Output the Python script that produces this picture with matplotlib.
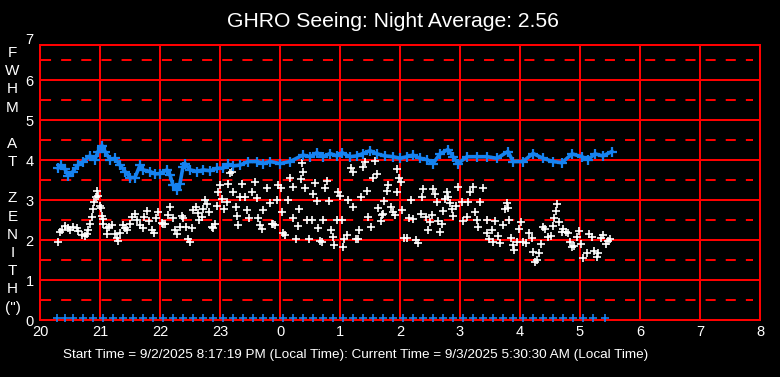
import matplotlib
matplotlib.use("Agg")
import matplotlib.pyplot as plt
import numpy as np

plt.rcParams['font.family'] = ['Liberation Sans', 'DejaVu Sans']

# ---------------- data (time in minutes after 20:00) ----------------
title_text = "GHRO Seeing: Night Average: 2.56"
footer_text = ("Start Time = 9/2/2025 8:17:19 PM (Local Time): "
               "Current Time = 9/3/2025 5:30:30 AM (Local Time)")
ylabel_chars = ["F", "W", "H", "M", "", "A", "T", "", "Z", "E", "N", "I", "T", "H", "(\")"]

x_tick_vals = [20, 21, 22, 23, 24, 25, 26, 27, 28, 29, 30, 31, 32]
x_tick_labels = ["20", "21", "22", "23", "0", "1", "2", "3", "4", "5", "6", "7", "8"]
y_tick_vals = [0, 1, 2, 3, 4, 5, 6, 7]

blue_min = [18, 21, 25, 28, 33, 38, 43, 50, 55, 58, 62, 65, 70, 75, 80, 85, 90, 95, 100, 103,
            110, 115, 120, 127, 130, 133, 137, 140, 143, 145, 150, 157, 163, 170, 177, 183, 188,
            193, 200, 208, 217, 223, 230, 240, 250, 263, 270, 277, 283, 290, 297, 302, 310, 317,
            323, 330, 337, 345, 353, 360, 367, 373, 380, 387, 393, 400, 408, 413, 418, 427, 437,
            447, 457, 468, 473, 483, 493, 503, 513, 522, 532, 542, 548, 555, 563, 572]
blue_val = [3.80, 3.88, 3.78, 3.62, 3.72, 3.88, 3.97, 4.11, 4.02, 4.22, 4.37, 4.22, 4.02, 4.05,
            3.88, 3.72, 3.57, 3.57, 3.88, 3.76, 3.72, 3.66, 3.67, 3.76, 3.63, 3.38, 3.26, 3.42,
            3.84, 3.92, 3.76, 3.72, 3.76, 3.74, 3.80, 3.80, 3.90, 3.86, 3.88, 3.97, 3.97, 3.92,
            3.97, 3.92, 3.97, 4.13, 4.09, 4.19, 4.09, 4.17, 4.11, 4.19, 4.09, 4.11, 4.17, 4.24,
            4.16, 4.11, 4.09, 4.05, 4.09, 4.13, 4.05, 4.02, 3.92, 4.16, 4.27, 4.09, 3.92, 4.09,
            4.09, 4.09, 4.05, 4.22, 3.97, 3.97, 4.17, 4.05, 3.97, 3.94, 4.16, 4.09, 4.02, 4.16,
            4.11, 4.22]

white_min = [18, 20, 22, 25, 28, 30, 33, 37, 38, 42, 45, 47, 48, 50, 52, 53, 54, 56, 57, 58,
             60, 61, 62, 63, 63, 67, 67, 69, 72, 75, 77, 78, 80, 83, 85, 87, 90, 92, 95, 97,
             100, 103, 104, 107, 109, 112, 114, 116, 118, 122, 123,
             125, 128, 130, 133, 135, 137, 140, 142, 143, 146, 148, 150, 152, 153, 156, 158,
             159, 162, 163, 165, 167, 169, 172, 173, 175, 177, 178, 180, 182, 184, 187, 188,
             190, 192, 193, 196, 197, 198, 200, 202, 205, 207, 209, 212, 215, 217, 218, 220,
             222, 223, 227, 230, 233,
             232, 235, 237, 238, 241, 242, 243, 245, 248, 250, 253, 253, 256, 258, 259, 261,
             262, 263, 265, 267, 269, 272, 273, 275, 277, 278, 280, 282, 283, 285, 287, 289,
             291, 293, 294, 297, 298, 300, 302, 303, 304, 307, 308, 311, 313, 313, 316, 318,
             319, 321, 323, 325, 327, 328, 331, 333, 335, 337, 338, 341, 343, 344,
             342, 347, 348, 351, 353, 355, 357, 357, 359, 361, 362, 364, 367, 369, 371, 373,
             376, 378, 381, 382, 383, 386, 388, 390, 392, 393, 395, 397, 398, 400, 402, 403,
             405, 407, 408, 410, 412, 413, 416, 418, 422, 423, 427, 428, 430, 433, 435, 437,
             438, 440, 443, 447, 447, 449, 452,
             453, 455, 458, 460, 463, 465, 467, 468, 469, 471, 473, 474, 477, 479, 481, 483,
             486, 489, 492, 493, 495, 497, 499, 501, 503, 505, 508, 511, 513, 514, 516, 517,
             519, 522, 523, 526, 528, 530, 532, 534, 537, 539, 541, 543, 547, 549, 552, 554,
             557, 558, 561, 563, 566, 568, 570]
white_val = [1.95, 2.20, 2.26, 2.37, 2.32, 2.26, 2.34, 2.30, 2.23, 2.13, 2.12, 2.15, 2.26, 2.40,
             2.59, 2.78, 2.97, 3.09, 3.23, 3.11, 2.87, 2.82, 2.62, 2.53, 2.40, 2.32, 2.15, 2.34,
             2.38, 2.15, 2.07, 1.98, 2.18, 2.38, 2.32, 2.26, 2.40, 2.59, 2.65, 2.51, 2.38, 2.32,
             2.59, 2.73, 2.48, 2.26, 2.18, 2.55, 2.70, 2.43, 2.40,
             2.40, 2.63, 2.84, 2.55, 2.26, 2.15, 2.34, 2.62, 2.57, 2.34, 2.03, 1.97, 2.32, 2.76,
             2.84, 2.68, 2.51, 2.59, 2.78, 3.01, 2.90, 2.70, 2.34, 2.30, 2.40, 2.87, 3.22, 3.38,
             3.03, 2.78, 2.95, 3.40, 3.68, 3.70, 3.20, 2.84, 2.62, 2.38, 3.09, 3.40, 3.09, 2.76,
             2.57, 3.20, 3.47, 3.05, 2.55, 2.38, 2.28, 2.76, 3.30, 2.93, 2.40,
             2.40, 2.38, 3.01, 3.38, 3.32, 2.70, 2.18, 2.13, 3.01, 3.55, 3.34, 2.55, 2.03, 2.37,
             2.78, 3.53, 3.93, 3.70, 3.30, 2.51, 2.03, 2.51, 3.15, 3.43, 2.98, 2.30, 1.98, 1.95,
             2.51, 3.32, 3.48, 2.98, 2.26, 2.09, 1.88, 2.51, 3.20, 3.12, 2.51, 1.84, 2.03, 2.13,
             3.01, 3.80, 3.70, 2.84, 2.03, 2.03, 2.26, 3.09, 3.84, 3.97, 3.23, 2.59, 2.34, 3.55,
             3.98, 3.65, 2.82, 2.48, 2.65, 2.98,
             2.63, 3.23, 3.38, 2.84, 2.72, 2.63, 3.20, 3.78, 3.57, 3.45, 2.76, 2.07, 2.05, 2.55,
             3.01, 2.53, 2.01, 1.93, 2.65, 3.09, 3.28, 2.59, 2.26, 2.45, 2.63, 3.28, 3.15, 2.95,
             2.48, 2.22, 2.40, 2.73, 3.03, 3.22, 3.09, 2.93, 2.78, 2.62, 2.87, 3.34, 2.95, 2.48,
             2.59, 2.95, 3.22, 3.34, 2.70, 2.51, 2.34, 2.97, 3.32, 2.51, 2.18, 2.03, 2.26,
             1.97, 2.48, 2.12, 1.93, 2.38, 2.78, 2.93, 2.82, 2.51, 2.07, 1.88, 1.76, 1.95, 2.28,
             2.45, 1.95, 1.93, 2.18, 2.07, 1.70, 1.45, 1.51, 1.68, 1.90, 2.34, 2.28, 2.09, 2.12,
             2.37, 2.55, 2.73, 2.90, 2.45, 2.22, 2.28, 2.22, 2.18, 1.95, 1.84, 1.87, 2.09, 2.23,
             1.90, 1.57, 1.68, 2.15, 2.09, 1.73, 1.59, 1.68, 2.05, 2.13, 1.90, 1.98, 2.03]

zero_min = [17, 25, 33, 43, 53, 63, 73, 83, 93, 103, 113, 123, 133, 143, 153, 163, 173, 183,
            193, 203, 213, 223, 233, 243, 253, 263, 273, 283, 293, 303, 313, 323, 333, 343,
            353, 363, 373, 383, 393, 403, 413, 423, 433, 443, 453, 463, 473, 483, 493, 503,
            513, 523, 533, 543, 553, 565]
zero_val = [0.0] * len(zero_min)

# ---------------- figure ----------------
W, H = 780, 377
fig = plt.figure(figsize=(W / 100, H / 100), dpi=100, facecolor='black')
ax_l, ax_r, ax_t, ax_b = 40, 760, 45.3, 320.3
ax = fig.add_axes([ax_l / W, (H - ax_b) / H, (ax_r - ax_l) / W, (ax_b - ax_t) / H])
ax.set_facecolor('black')

def hours(m):
    return 20 + np.asarray(m, dtype=float) / 60.0

RED = '#ff0000'
BLUE = '#1682f0'

ax.set_xlim(20, 32)
ax.set_ylim(0, 6.875)

# grid
for x in x_tick_vals:
    ax.axvline(x, color=RED, lw=1.45, zorder=1)
for y in range(1, 7):
    ax.axhline(y, color=RED, lw=1.45, zorder=1)
for y in np.arange(0.5, 7, 1.0):
    ax.plot([20.02, 31.88], [y, y], color=RED, lw=1.45, dashes=(5, 5), zorder=1)

for s in ax.spines.values():
    s.set_color(RED)
    s.set_linewidth(1.45)

# data
ax.plot(hours(white_min), white_val, linestyle='none', marker='+', ms=6, mew=1.2,
        color='white', zorder=3)
ax.plot(hours(blue_min), blue_val, color=BLUE, lw=2.6, marker='+', ms=6.5, mew=1.6, zorder=4)
ax.plot(hours(zero_min), np.asarray(zero_val) + 0.06, linestyle='none', marker='+', ms=6,
        mew=1.2, color=BLUE, zorder=4, clip_on=False)

# ticks
ax.set_xticks(x_tick_vals)
ax.set_xticklabels(x_tick_labels)
ax.set_yticks(y_tick_vals[:-1])
ax.tick_params(axis='both', length=0, colors='white', labelsize=10.5)
ax.tick_params(axis='x', pad=3.5)
ax.tick_params(axis='y', pad=4.5)
# tick label "7" sits above the axes box
ax.annotate(str(y_tick_vals[-1]), xy=(0, y_tick_vals[-1]), xycoords=('axes fraction', 'data'),
            xytext=(-4.5, 0), textcoords='offset points', ha='right', va='center',
            color='white', fontsize=10.5, annotation_clip=False)

# title and footer
fig.text(392.5 / W, 1 - 21.5 / H, title_text, color='white', fontsize=15.2,
         ha='center', va='center')
fig.text(62.5 / W, 1 - 355 / H, footer_text, color='white', fontsize=9.7,
         ha='left', va='center')

# vertical stacked y label
for i, ch in enumerate(ylabel_chars):
    if ch:
        fig.text(12.5 / W, 1 - (53 + i * 18.18) / H, ch, color='white', fontsize=11,
                 ha='center', va='center')

fig.savefig('out.png', dpi=100, facecolor='black')
